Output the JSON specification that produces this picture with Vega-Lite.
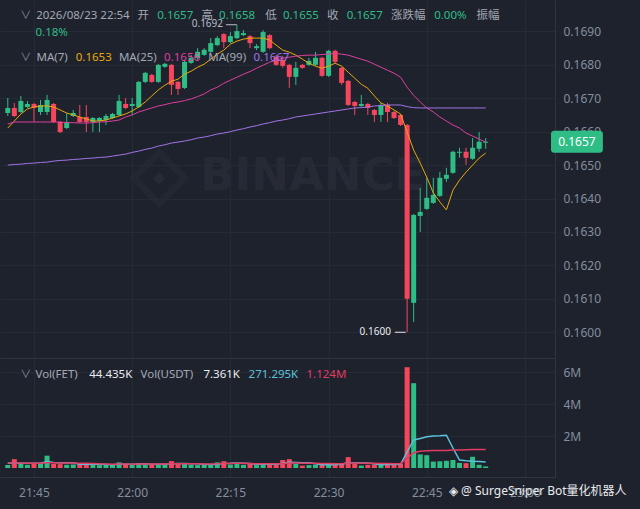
{
"$schema":"https://vega.github.io/schema/vega-lite/v6.json",
"background":"#1e222d",
"padding":0,
"spacing":0,
"config":{"view":{"stroke":null},"text":{"font":"Noto Sans, Noto Sans CJK SC"},
 "axis":{"labelOverlap":false,"labelColor":"#848e9c","labelFontSize":12,"labelFont":"Noto Sans","ticks":false,"tickSize":0,"domainColor":"#2f343f","gridColor":"#262a35"},
 "axisY":{"minExtent":85,"maxExtent":85,"labelPadding":8},
 "axisX":{"labelPadding":10}},
"datasets":{"k":[
{"t":41,"o":0.16656,"h":0.16701,"l":0.16647,"c":0.16671,"v":190000,"m7":0.16611,"m25":0.16623,"m99":0.16500,"v5":300000,"v10":320000},
{"t":42,"o":0.16671,"h":0.16686,"l":0.16644,"c":0.16647,"v":550000,"m7":0.16632,"m25":0.16629,"m99":0.16502,"v5":320000,"v10":320000},
{"t":43,"o":0.16659,"h":0.16707,"l":0.16656,"c":0.16692,"v":250000,"m7":0.16653,"m25":0.16629,"m99":0.16503,"v5":300000,"v10":310000},
{"t":44,"o":0.16674,"h":0.16692,"l":0.16671,"c":0.16683,"v":200000,"m7":0.16668,"m25":0.16629,"m99":0.16505,"v5":300000,"v10":300000},
{"t":45,"o":0.16683,"h":0.16686,"l":0.16629,"c":0.16671,"v":260000,"m7":0.16674,"m25":0.16629,"m99":0.16506,"v5":300000,"v10":300000},
{"t":46,"o":0.16659,"h":0.16695,"l":0.16650,"c":0.16680,"v":250000,"m7":0.16677,"m25":0.16629,"m99":0.16508,"v5":300000,"v10":300000},
{"t":47,"o":0.16659,"h":0.16710,"l":0.16650,"c":0.16695,"v":770000,"m7":0.16677,"m25":0.16629,"m99":0.16509,"v5":400000,"v10":330000},
{"t":48,"o":0.16683,"h":0.16686,"l":0.16626,"c":0.16629,"v":250000,"m7":0.16674,"m25":0.16629,"m99":0.16512,"v5":350000,"v10":330000},
{"t":49,"o":0.16629,"h":0.16632,"l":0.16596,"c":0.16599,"v":240000,"m7":0.16665,"m25":0.16629,"m99":0.16514,"v5":330000,"v10":320000},
{"t":50,"o":0.16611,"h":0.16656,"l":0.16608,"c":0.16629,"v":200000,"m7":0.16656,"m25":0.16627,"m99":0.16515,"v5":330000,"v10":320000},
{"t":51,"o":0.16647,"h":0.16665,"l":0.16644,"c":0.16656,"v":220000,"m7":0.16650,"m25":0.16627,"m99":0.16517,"v5":330000,"v10":310000},
{"t":52,"o":0.16644,"h":0.16680,"l":0.16626,"c":0.16629,"v":280000,"m7":0.16644,"m25":0.16626,"m99":0.16518,"v5":240000,"v10":300000},
{"t":53,"o":0.16644,"h":0.16680,"l":0.16599,"c":0.16629,"v":250000,"m7":0.16638,"m25":0.16626,"m99":0.16520,"v5":240000,"v10":290000},
{"t":54,"o":0.16629,"h":0.16644,"l":0.16599,"c":0.16641,"v":200000,"m7":0.16632,"m25":0.16627,"m99":0.16521,"v5":230000,"v10":280000},
{"t":55,"o":0.16632,"h":0.16644,"l":0.16599,"c":0.16641,"v":180000,"m7":0.16632,"m25":0.16629,"m99":0.16523,"v5":230000,"v10":260000},
{"t":56,"o":0.16635,"h":0.16653,"l":0.16620,"c":0.16647,"v":220000,"m7":0.16635,"m25":0.16630,"m99":0.16524,"v5":220000,"v10":250000},
{"t":57,"o":0.16641,"h":0.16656,"l":0.16638,"c":0.16653,"v":200000,"m7":0.16641,"m25":0.16632,"m99":0.16527,"v5":210000,"v10":240000},
{"t":58,"o":0.16650,"h":0.16710,"l":0.16647,"c":0.16692,"v":350000,"m7":0.16647,"m25":0.16635,"m99":0.16530,"v5":230000,"v10":250000},
{"t":59,"o":0.16683,"h":0.16701,"l":0.16668,"c":0.16671,"v":220000,"m7":0.16653,"m25":0.16644,"m99":0.16533,"v5":240000,"v10":250000},
{"t":60,"o":0.16677,"h":0.16701,"l":0.16650,"c":0.16683,"v":200000,"m7":0.16662,"m25":0.16650,"m99":0.16538,"v5":240000,"v10":240000},
{"t":61,"o":0.16674,"h":0.16752,"l":0.16671,"c":0.16749,"v":300000,"m7":0.16674,"m25":0.16659,"m99":0.16542,"v5":250000,"v10":250000},
{"t":62,"o":0.16749,"h":0.16779,"l":0.16746,"c":0.16776,"v":220000,"m7":0.16689,"m25":0.16665,"m99":0.16547,"v5":260000,"v10":250000},
{"t":63,"o":0.16770,"h":0.16773,"l":0.16746,"c":0.16749,"v":250000,"m7":0.16707,"m25":0.16671,"m99":0.16551,"v5":240000,"v10":250000},
{"t":64,"o":0.16749,"h":0.16803,"l":0.16746,"c":0.16800,"v":220000,"m7":0.16725,"m25":0.16677,"m99":0.16557,"v5":240000,"v10":250000},
{"t":65,"o":0.16794,"h":0.16806,"l":0.16791,"c":0.16803,"v":200000,"m7":0.16739,"m25":0.16681,"m99":0.16561,"v5":240000,"v10":250000},
{"t":66,"o":0.16800,"h":0.16803,"l":0.16710,"c":0.16740,"v":430000,"m7":0.16751,"m25":0.16686,"m99":0.16566,"v5":260000,"v10":260000},
{"t":67,"o":0.16749,"h":0.16752,"l":0.16710,"c":0.16728,"v":280000,"m7":0.16757,"m25":0.16689,"m99":0.16569,"v5":280000,"v10":270000},
{"t":68,"o":0.16731,"h":0.16815,"l":0.16728,"c":0.16809,"v":250000,"m7":0.16772,"m25":0.16693,"m99":0.16572,"v5":280000,"v10":270000},
{"t":69,"o":0.16806,"h":0.16830,"l":0.16803,"c":0.16821,"v":200000,"m7":0.16781,"m25":0.16698,"m99":0.16576,"v5":270000,"v10":260000},
{"t":70,"o":0.16821,"h":0.16850,"l":0.16815,"c":0.16839,"v":180000,"m7":0.16793,"m25":0.16705,"m99":0.16581,"v5":270000,"v10":260000},
{"t":71,"o":0.16830,"h":0.16850,"l":0.16827,"c":0.16845,"v":200000,"m7":0.16802,"m25":0.16713,"m99":0.16584,"v5":220000,"v10":250000},
{"t":72,"o":0.16839,"h":0.16880,"l":0.16836,"c":0.16865,"v":250000,"m7":0.16817,"m25":0.16725,"m99":0.16588,"v5":220000,"v10":250000},
{"t":73,"o":0.16859,"h":0.16886,"l":0.16856,"c":0.16880,"v":350000,"m7":0.16832,"m25":0.16733,"m99":0.16593,"v5":240000,"v10":260000},
{"t":74,"o":0.16892,"h":0.16895,"l":0.16850,"c":0.16868,"v":420000,"m7":0.16844,"m25":0.16745,"m99":0.16596,"v5":280000,"v10":280000},
{"t":75,"o":0.16868,"h":0.16898,"l":0.16865,"c":0.16886,"v":220000,"m7":0.16862,"m25":0.16754,"m99":0.16600,"v5":290000,"v10":280000},
{"t":76,"o":0.16880,"h":0.16920,"l":0.16877,"c":0.16901,"v":300000,"m7":0.16871,"m25":0.16763,"m99":0.16605,"v5":310000,"v10":290000},
{"t":77,"o":0.16889,"h":0.16904,"l":0.16886,"c":0.16895,"v":200000,"m7":0.16877,"m25":0.16772,"m99":0.16609,"v5":300000,"v10":290000},
{"t":78,"o":0.16886,"h":0.16889,"l":0.16850,"c":0.16865,"v":250000,"m7":0.16880,"m25":0.16780,"m99":0.16614,"v5":280000,"v10":280000},
{"t":79,"o":0.16850,"h":0.16862,"l":0.16844,"c":0.16856,"v":180000,"m7":0.16880,"m25":0.16790,"m99":0.16618,"v5":230000,"v10":260000},
{"t":80,"o":0.16839,"h":0.16904,"l":0.16836,"c":0.16898,"v":300000,"m7":0.16880,"m25":0.16799,"m99":0.16623,"v5":250000,"v10":260000},
{"t":81,"o":0.16889,"h":0.16892,"l":0.16847,"c":0.16850,"v":250000,"m7":0.16874,"m25":0.16808,"m99":0.16627,"v5":240000,"v10":260000},
{"t":82,"o":0.16824,"h":0.16830,"l":0.16797,"c":0.16800,"v":220000,"m7":0.16859,"m25":0.16814,"m99":0.16632,"v5":240000,"v10":260000},
{"t":83,"o":0.16815,"h":0.16827,"l":0.16791,"c":0.16797,"v":500000,"m7":0.16844,"m25":0.16820,"m99":0.16635,"v5":290000,"v10":280000},
{"t":84,"o":0.16800,"h":0.16803,"l":0.16731,"c":0.16764,"v":550000,"m7":0.16838,"m25":0.16823,"m99":0.16639,"v5":360000,"v10":310000},
{"t":85,"o":0.16764,"h":0.16809,"l":0.16740,"c":0.16791,"v":250000,"m7":0.16829,"m25":0.16826,"m99":0.16644,"v5":350000,"v10":310000},
{"t":86,"o":0.16800,"h":0.16803,"l":0.16788,"c":0.16791,"v":150000,"m7":0.16817,"m25":0.16828,"m99":0.16647,"v5":330000,"v10":300000},
{"t":87,"o":0.16800,"h":0.16821,"l":0.16797,"c":0.16812,"v":180000,"m7":0.16805,"m25":0.16829,"m99":0.16650,"v5":330000,"v10":300000},
{"t":88,"o":0.16800,"h":0.16839,"l":0.16797,"c":0.16821,"v":200000,"m7":0.16796,"m25":0.16829,"m99":0.16653,"v5":270000,"v10":290000},
{"t":89,"o":0.16821,"h":0.16824,"l":0.16764,"c":0.16767,"v":220000,"m7":0.16790,"m25":0.16831,"m99":0.16656,"v5":200000,"v10":280000},
{"t":90,"o":0.16767,"h":0.16845,"l":0.16764,"c":0.16842,"v":250000,"m7":0.16796,"m25":0.16832,"m99":0.16659,"v5":220000,"v10":280000},
{"t":91,"o":0.16842,"h":0.16845,"l":0.16806,"c":0.16809,"v":200000,"m7":0.16805,"m25":0.16834,"m99":0.16662,"v5":210000,"v10":270000},
{"t":92,"o":0.16791,"h":0.16794,"l":0.16740,"c":0.16746,"v":280000,"m7":0.16796,"m25":0.16832,"m99":0.16665,"v5":230000,"v10":270000},
{"t":93,"o":0.16752,"h":0.16755,"l":0.16677,"c":0.16680,"v":680000,"m7":0.16778,"m25":0.16829,"m99":0.16668,"v5":330000,"v10":310000},
{"t":94,"o":0.16689,"h":0.16692,"l":0.16650,"c":0.16677,"v":250000,"m7":0.16760,"m25":0.16823,"m99":0.16671,"v5":330000,"v10":310000},
{"t":95,"o":0.16677,"h":0.16710,"l":0.16674,"c":0.16683,"v":150000,"m7":0.16742,"m25":0.16817,"m99":0.16672,"v5":310000,"v10":300000},
{"t":96,"o":0.16683,"h":0.16686,"l":0.16650,"c":0.16671,"v":200000,"m7":0.16730,"m25":0.16811,"m99":0.16674,"v5":310000,"v10":290000},
{"t":97,"o":0.16665,"h":0.16668,"l":0.16629,"c":0.16650,"v":220000,"m7":0.16707,"m25":0.16802,"m99":0.16677,"v5":260000,"v10":290000},
{"t":98,"o":0.16650,"h":0.16686,"l":0.16629,"c":0.16680,"v":220000,"m7":0.16686,"m25":0.16793,"m99":0.16678,"v5":210000,"v10":280000},
{"t":99,"o":0.16680,"h":0.16686,"l":0.16629,"c":0.16659,"v":250000,"m7":0.16677,"m25":0.16784,"m99":0.16680,"v5":220000,"v10":280000},
{"t":100,"o":0.16659,"h":0.16662,"l":0.16638,"c":0.16641,"v":220000,"m7":0.16665,"m25":0.16775,"m99":0.16680,"v5":220000,"v10":270000},
{"t":101,"o":0.16650,"h":0.16653,"l":0.16617,"c":0.16620,"v":280000,"m7":0.16653,"m25":0.16763,"m99":0.16680,"v5":240000,"v10":270000},
{"t":102,"o":0.16620,"h":0.16623,"l":0.16000,"c":0.16100,"v":6300000,"m7":0.16599,"m25":0.16733,"m99":0.16675,"v5":1000000,"v10":600000},
{"t":103,"o":0.16088,"h":0.16354,"l":0.16031,"c":0.16351,"v":5300000,"m7":0.16545,"m25":0.16709,"m99":0.16672,"v5":1750000,"v10":950000},
{"t":104,"o":0.16348,"h":0.16432,"l":0.16300,"c":0.16360,"v":850000,"m7":0.16506,"m25":0.16689,"m99":0.16671,"v5":1850000,"v10":1050000},
{"t":105,"o":0.16369,"h":0.16462,"l":0.16366,"c":0.16402,"v":800000,"m7":0.16464,"m25":0.16671,"m99":0.16671,"v5":1950000,"v10":1080000},
{"t":106,"o":0.16387,"h":0.16462,"l":0.16384,"c":0.16411,"v":400000,"m7":0.16417,"m25":0.16659,"m99":0.16671,"v5":2000000,"v10":1100000},
{"t":107,"o":0.16408,"h":0.16480,"l":0.16405,"c":0.16462,"v":420000,"m7":0.16390,"m25":0.16644,"m99":0.16671,"v5":2020000,"v10":1100000},
{"t":108,"o":0.16459,"h":0.16492,"l":0.16450,"c":0.16471,"v":450000,"m7":0.16366,"m25":0.16632,"m99":0.16671,"v5":2050000,"v10":1100000},
{"t":109,"o":0.16477,"h":0.16543,"l":0.16474,"c":0.16540,"v":500000,"m7":0.16425,"m25":0.16620,"m99":0.16671,"v5":1250000,"v10":1120000},
{"t":110,"o":0.16537,"h":0.16552,"l":0.16522,"c":0.16540,"v":320000,"m7":0.16455,"m25":0.16611,"m99":0.16671,"v5":500000,"v10":1130000},
{"t":111,"o":0.16540,"h":0.16552,"l":0.16501,"c":0.16522,"v":300000,"m7":0.16479,"m25":0.16596,"m99":0.16671,"v5":450000,"v10":1140000},
{"t":112,"o":0.16519,"h":0.16581,"l":0.16516,"c":0.16552,"v":700000,"m7":0.16500,"m25":0.16587,"m99":0.16671,"v5":420000,"v10":1150000},
{"t":113,"o":0.16549,"h":0.16599,"l":0.16540,"c":0.16570,"v":200000,"m7":0.16521,"m25":0.16578,"m99":0.16671,"v5":400000,"v10":1150000},
{"t":114,"o":0.16567,"h":0.16581,"l":0.16549,"c":0.16570,"v":100000,"m7":0.16536,"m25":0.16569,"m99":0.16671,"v5":380000,"v10":1150000}
]},
"vconcat":[
{"width":555,"height":358,
 "layer":[
  {"data":{"values":[{}]},
   "layer":[
    {"mark":{"type":"point","shape":"diamond","size":2600,"filled":false,"stroke":"#262a35","strokeWidth":7},
     "encoding":{"x":{"datum":64.1,"type":"quantitative","scale":{"domain":[40.575,123.825],"nice":false},"axis":{"values":[45,60,75,90,105,120],"labels":false,"title":null,"grid":true,"domain":true,"minExtent":0,"maxExtent":0}},"y":{"datum":0.16461,"type":"quantitative","scale":{"domain":[0.15923,0.16994],"nice":false},"axis":{"orient":"right","values":[0.160,0.161,0.162,0.163,0.164,0.165,0.166,0.167,0.168,0.169],"format":".4f","title":null,"grid":true,"domain":true}}}},
    {"mark":{"type":"point","shape":"diamond","size":160,"filled":true,"fill":"#262a35","opacity":1},
     "encoding":{"x":{"datum":64.1,"type":"quantitative","scale":{"domain":[40.575,123.825],"nice":false},"axis":{"values":[45,60,75,90,105,120],"labels":false,"title":null,"grid":true,"domain":true,"minExtent":0,"maxExtent":0}},"y":{"datum":0.16461,"type":"quantitative","scale":{"domain":[0.15923,0.16994],"nice":false},"axis":{"orient":"right","values":[0.160,0.161,0.162,0.163,0.164,0.165,0.166,0.167,0.168,0.169],"format":".4f","title":null,"grid":true,"domain":true}}}},
    {"mark":{"type":"text","text":"BINANCE","align":"left","baseline":"middle","fontSize":45,"fontWeight":"bold","font":"DejaVu Sans","color":"#262a35"},
     "encoding":{"x":{"datum":70.4,"type":"quantitative","scale":{"domain":[40.575,123.825],"nice":false},"axis":{"values":[45,60,75,90,105,120],"labels":false,"title":null,"grid":true,"domain":true,"minExtent":0,"maxExtent":0}},"y":{"datum":0.16467,"type":"quantitative","scale":{"domain":[0.15923,0.16994],"nice":false},"axis":{"orient":"right","values":[0.160,0.161,0.162,0.163,0.164,0.165,0.166,0.167,0.168,0.169],"format":".4f","title":null,"grid":true,"domain":true}}}}
   ]},
  {"data":{"name":"k"},
   "encoding":{"x":{"field":"t","type":"quantitative","scale":{"domain":[40.575,123.825],"nice":false},"axis":{"values":[45,60,75,90,105,120],"labels":false,"title":null,"grid":true,"domain":true,"minExtent":0,"maxExtent":0}}},
   "layer":[
    {"mark":{"type":"rule","strokeWidth":1},
     "encoding":{"y":{"field":"l","type":"quantitative","scale":{"domain":[0.15923,0.16994],"nice":false},"axis":{"orient":"right","values":[0.160,0.161,0.162,0.163,0.164,0.165,0.166,0.167,0.168,0.169],"format":".4f","title":null,"grid":true,"domain":true}},
      "y2":{"field":"h"},
      "color":{"condition":{"test":"datum.c >= datum.o","value":"#2ebd85"},"value":"#f6465d"}}},
    {"mark":{"type":"bar","size":5},
     "encoding":{"y":{"field":"o","type":"quantitative","scale":{"domain":[0.15923,0.16994],"nice":false},"axis":{"orient":"right","values":[0.160,0.161,0.162,0.163,0.164,0.165,0.166,0.167,0.168,0.169],"format":".4f","title":null,"grid":true,"domain":true}},"y2":{"field":"c"},
      "color":{"condition":{"test":"datum.c >= datum.o","value":"#2ebd85"},"value":"#f6465d"}}},
    {"mark":{"type":"line","strokeWidth":1,"color":"#e9a80c"},"encoding":{"y":{"field":"m7","type":"quantitative","scale":{"domain":[0.15923,0.16994],"nice":false},"axis":{"orient":"right","values":[0.160,0.161,0.162,0.163,0.164,0.165,0.166,0.167,0.168,0.169],"format":".4f","title":null,"grid":true,"domain":true}}}},
    {"mark":{"type":"line","strokeWidth":1,"color":"#dd3f9e"},"encoding":{"y":{"field":"m25","type":"quantitative","scale":{"domain":[0.15923,0.16994],"nice":false},"axis":{"orient":"right","values":[0.160,0.161,0.162,0.163,0.164,0.165,0.166,0.167,0.168,0.169],"format":".4f","title":null,"grid":true,"domain":true}}}},
    {"mark":{"type":"line","strokeWidth":1,"color":"#a074e8"},"encoding":{"y":{"field":"m99","type":"quantitative","scale":{"domain":[0.15923,0.16994],"nice":false},"axis":{"orient":"right","values":[0.160,0.161,0.162,0.163,0.164,0.165,0.166,0.167,0.168,0.169],"format":".4f","title":null,"grid":true,"domain":true}}}}
   ]},
  {"data":{"values":[{"r1":0.16946,"r2":0.16895,"r3":0.16820}]},
   "layer":[
    {"mark":{"type":"text","text":"∨","align":"center","baseline":"middle","fontSize":11,"color":"#848e9c"},"encoding":{"x":{"datum":43.73,"type":"quantitative","scale":{"domain":[40.575,123.825],"nice":false},"axis":{"values":[45,60,75,90,105,120],"labels":false,"title":null,"grid":true,"domain":true,"minExtent":0,"maxExtent":0}},"y":{"datum":0.16946,"type":"quantitative","scale":{"domain":[0.15923,0.16994],"nice":false},"axis":{"orient":"right","values":[0.160,0.161,0.162,0.163,0.164,0.165,0.166,0.167,0.168,0.169],"format":".4f","title":null,"grid":true,"domain":true}}}},
    {"mark":{"type":"text","text":"2026/08/23 22:54","align":"left","baseline":"middle","fontSize":11.5,"color":"#a3a9b4"},"encoding":{"x":{"datum":45.33,"type":"quantitative","scale":{"domain":[40.575,123.825],"nice":false},"axis":{"values":[45,60,75,90,105,120],"labels":false,"title":null,"grid":true,"domain":true,"minExtent":0,"maxExtent":0}},"y":{"datum":0.16946,"type":"quantitative","scale":{"domain":[0.15923,0.16994],"nice":false},"axis":{"orient":"right","values":[0.160,0.161,0.162,0.163,0.164,0.165,0.166,0.167,0.168,0.169],"format":".4f","title":null,"grid":true,"domain":true}}}},
    {"mark":{"type":"text","text":"开","align":"left","baseline":"middle","fontSize":11.5,"color":"#a3a9b4"},"encoding":{"x":{"datum":60.83,"type":"quantitative","scale":{"domain":[40.575,123.825],"nice":false},"axis":{"values":[45,60,75,90,105,120],"labels":false,"title":null,"grid":true,"domain":true,"minExtent":0,"maxExtent":0}},"y":{"datum":0.16946,"type":"quantitative","scale":{"domain":[0.15923,0.16994],"nice":false},"axis":{"orient":"right","values":[0.160,0.161,0.162,0.163,0.164,0.165,0.166,0.167,0.168,0.169],"format":".4f","title":null,"grid":true,"domain":true}}}},
    {"mark":{"type":"text","text":"0.1657","align":"left","baseline":"middle","fontSize":11.5,"color":"#2ebd85"},"encoding":{"x":{"datum":63.83,"type":"quantitative","scale":{"domain":[40.575,123.825],"nice":false},"axis":{"values":[45,60,75,90,105,120],"labels":false,"title":null,"grid":true,"domain":true,"minExtent":0,"maxExtent":0}},"y":{"datum":0.16946,"type":"quantitative","scale":{"domain":[0.15923,0.16994],"nice":false},"axis":{"orient":"right","values":[0.160,0.161,0.162,0.163,0.164,0.165,0.166,0.167,0.168,0.169],"format":".4f","title":null,"grid":true,"domain":true}}}},
    {"mark":{"type":"text","text":"高","align":"left","baseline":"middle","fontSize":11.5,"color":"#a3a9b4"},"encoding":{"x":{"datum":70.58,"type":"quantitative","scale":{"domain":[40.575,123.825],"nice":false},"axis":{"values":[45,60,75,90,105,120],"labels":false,"title":null,"grid":true,"domain":true,"minExtent":0,"maxExtent":0}},"y":{"datum":0.16946,"type":"quantitative","scale":{"domain":[0.15923,0.16994],"nice":false},"axis":{"orient":"right","values":[0.160,0.161,0.162,0.163,0.164,0.165,0.166,0.167,0.168,0.169],"format":".4f","title":null,"grid":true,"domain":true}}}},
    {"mark":{"type":"text","text":"0.1658","align":"left","baseline":"middle","fontSize":11.5,"color":"#2ebd85"},"encoding":{"x":{"datum":73.28,"type":"quantitative","scale":{"domain":[40.575,123.825],"nice":false},"axis":{"values":[45,60,75,90,105,120],"labels":false,"title":null,"grid":true,"domain":true,"minExtent":0,"maxExtent":0}},"y":{"datum":0.16946,"type":"quantitative","scale":{"domain":[0.15923,0.16994],"nice":false},"axis":{"orient":"right","values":[0.160,0.161,0.162,0.163,0.164,0.165,0.166,0.167,0.168,0.169],"format":".4f","title":null,"grid":true,"domain":true}}}},
    {"mark":{"type":"text","text":"低","align":"left","baseline":"middle","fontSize":11.5,"color":"#a3a9b4"},"encoding":{"x":{"datum":80.33,"type":"quantitative","scale":{"domain":[40.575,123.825],"nice":false},"axis":{"values":[45,60,75,90,105,120],"labels":false,"title":null,"grid":true,"domain":true,"minExtent":0,"maxExtent":0}},"y":{"datum":0.16946,"type":"quantitative","scale":{"domain":[0.15923,0.16994],"nice":false},"axis":{"orient":"right","values":[0.160,0.161,0.162,0.163,0.164,0.165,0.166,0.167,0.168,0.169],"format":".4f","title":null,"grid":true,"domain":true}}}},
    {"mark":{"type":"text","text":"0.1655","align":"left","baseline":"middle","fontSize":11.5,"color":"#2ebd85"},"encoding":{"x":{"datum":83.03,"type":"quantitative","scale":{"domain":[40.575,123.825],"nice":false},"axis":{"values":[45,60,75,90,105,120],"labels":false,"title":null,"grid":true,"domain":true,"minExtent":0,"maxExtent":0}},"y":{"datum":0.16946,"type":"quantitative","scale":{"domain":[0.15923,0.16994],"nice":false},"axis":{"orient":"right","values":[0.160,0.161,0.162,0.163,0.164,0.165,0.166,0.167,0.168,0.169],"format":".4f","title":null,"grid":true,"domain":true}}}},
    {"mark":{"type":"text","text":"收","align":"left","baseline":"middle","fontSize":11.5,"color":"#a3a9b4"},"encoding":{"x":{"datum":89.78,"type":"quantitative","scale":{"domain":[40.575,123.825],"nice":false},"axis":{"values":[45,60,75,90,105,120],"labels":false,"title":null,"grid":true,"domain":true,"minExtent":0,"maxExtent":0}},"y":{"datum":0.16946,"type":"quantitative","scale":{"domain":[0.15923,0.16994],"nice":false},"axis":{"orient":"right","values":[0.160,0.161,0.162,0.163,0.164,0.165,0.166,0.167,0.168,0.169],"format":".4f","title":null,"grid":true,"domain":true}}}},
    {"mark":{"type":"text","text":"0.1657","align":"left","baseline":"middle","fontSize":11.5,"color":"#2ebd85"},"encoding":{"x":{"datum":92.78,"type":"quantitative","scale":{"domain":[40.575,123.825],"nice":false},"axis":{"values":[45,60,75,90,105,120],"labels":false,"title":null,"grid":true,"domain":true,"minExtent":0,"maxExtent":0}},"y":{"datum":0.16946,"type":"quantitative","scale":{"domain":[0.15923,0.16994],"nice":false},"axis":{"orient":"right","values":[0.160,0.161,0.162,0.163,0.164,0.165,0.166,0.167,0.168,0.169],"format":".4f","title":null,"grid":true,"domain":true}}}},
    {"mark":{"type":"text","text":"涨跌幅","align":"left","baseline":"middle","fontSize":11.5,"color":"#a3a9b4"},"encoding":{"x":{"datum":99.53,"type":"quantitative","scale":{"domain":[40.575,123.825],"nice":false},"axis":{"values":[45,60,75,90,105,120],"labels":false,"title":null,"grid":true,"domain":true,"minExtent":0,"maxExtent":0}},"y":{"datum":0.16946,"type":"quantitative","scale":{"domain":[0.15923,0.16994],"nice":false},"axis":{"orient":"right","values":[0.160,0.161,0.162,0.163,0.164,0.165,0.166,0.167,0.168,0.169],"format":".4f","title":null,"grid":true,"domain":true}}}},
    {"mark":{"type":"text","text":"0.00%","align":"left","baseline":"middle","fontSize":11.5,"color":"#2ebd85"},"encoding":{"x":{"datum":106.13,"type":"quantitative","scale":{"domain":[40.575,123.825],"nice":false},"axis":{"values":[45,60,75,90,105,120],"labels":false,"title":null,"grid":true,"domain":true,"minExtent":0,"maxExtent":0}},"y":{"datum":0.16946,"type":"quantitative","scale":{"domain":[0.15923,0.16994],"nice":false},"axis":{"orient":"right","values":[0.160,0.161,0.162,0.163,0.164,0.165,0.166,0.167,0.168,0.169],"format":".4f","title":null,"grid":true,"domain":true}}}},
    {"mark":{"type":"text","text":"振幅","align":"left","baseline":"middle","fontSize":11.5,"color":"#a3a9b4"},"encoding":{"x":{"datum":112.58,"type":"quantitative","scale":{"domain":[40.575,123.825],"nice":false},"axis":{"values":[45,60,75,90,105,120],"labels":false,"title":null,"grid":true,"domain":true,"minExtent":0,"maxExtent":0}},"y":{"datum":0.16946,"type":"quantitative","scale":{"domain":[0.15923,0.16994],"nice":false},"axis":{"orient":"right","values":[0.160,0.161,0.162,0.163,0.164,0.165,0.166,0.167,0.168,0.169],"format":".4f","title":null,"grid":true,"domain":true}}}},
    {"mark":{"type":"text","text":"0.18%","align":"left","baseline":"middle","fontSize":11.5,"color":"#2ebd85"},"encoding":{"x":{"datum":45.23,"type":"quantitative","scale":{"domain":[40.575,123.825],"nice":false},"axis":{"values":[45,60,75,90,105,120],"labels":false,"title":null,"grid":true,"domain":true,"minExtent":0,"maxExtent":0}},"y":{"datum":0.16895,"type":"quantitative","scale":{"domain":[0.15923,0.16994],"nice":false},"axis":{"orient":"right","values":[0.160,0.161,0.162,0.163,0.164,0.165,0.166,0.167,0.168,0.169],"format":".4f","title":null,"grid":true,"domain":true}}}},
    {"mark":{"type":"text","text":"∨","align":"center","baseline":"middle","fontSize":11,"color":"#848e9c"},"encoding":{"x":{"datum":43.73,"type":"quantitative","scale":{"domain":[40.575,123.825],"nice":false},"axis":{"values":[45,60,75,90,105,120],"labels":false,"title":null,"grid":true,"domain":true,"minExtent":0,"maxExtent":0}},"y":{"datum":0.16820,"type":"quantitative","scale":{"domain":[0.15923,0.16994],"nice":false},"axis":{"orient":"right","values":[0.160,0.161,0.162,0.163,0.164,0.165,0.166,0.167,0.168,0.169],"format":".4f","title":null,"grid":true,"domain":true}}}},
    {"mark":{"type":"text","text":"MA(7)","align":"left","baseline":"middle","fontSize":11.5,"color":"#a3a9b4"},"encoding":{"x":{"datum":45.38,"type":"quantitative","scale":{"domain":[40.575,123.825],"nice":false},"axis":{"values":[45,60,75,90,105,120],"labels":false,"title":null,"grid":true,"domain":true,"minExtent":0,"maxExtent":0}},"y":{"datum":0.16820,"type":"quantitative","scale":{"domain":[0.15923,0.16994],"nice":false},"axis":{"orient":"right","values":[0.160,0.161,0.162,0.163,0.164,0.165,0.166,0.167,0.168,0.169],"format":".4f","title":null,"grid":true,"domain":true}}}},
    {"mark":{"type":"text","text":"0.1653","align":"left","baseline":"middle","fontSize":11.5,"color":"#e9a80c"},"encoding":{"x":{"datum":51.38,"type":"quantitative","scale":{"domain":[40.575,123.825],"nice":false},"axis":{"values":[45,60,75,90,105,120],"labels":false,"title":null,"grid":true,"domain":true,"minExtent":0,"maxExtent":0}},"y":{"datum":0.16820,"type":"quantitative","scale":{"domain":[0.15923,0.16994],"nice":false},"axis":{"orient":"right","values":[0.160,0.161,0.162,0.163,0.164,0.165,0.166,0.167,0.168,0.169],"format":".4f","title":null,"grid":true,"domain":true}}}},
    {"mark":{"type":"text","text":"MA(25)","align":"left","baseline":"middle","fontSize":11.5,"color":"#a3a9b4"},"encoding":{"x":{"datum":57.98,"type":"quantitative","scale":{"domain":[40.575,123.825],"nice":false},"axis":{"values":[45,60,75,90,105,120],"labels":false,"title":null,"grid":true,"domain":true,"minExtent":0,"maxExtent":0}},"y":{"datum":0.16820,"type":"quantitative","scale":{"domain":[0.15923,0.16994],"nice":false},"axis":{"orient":"right","values":[0.160,0.161,0.162,0.163,0.164,0.165,0.166,0.167,0.168,0.169],"format":".4f","title":null,"grid":true,"domain":true}}}},
    {"mark":{"type":"text","text":"0.1656","align":"left","baseline":"middle","fontSize":11.5,"color":"#dd3f9e"},"encoding":{"x":{"datum":64.88,"type":"quantitative","scale":{"domain":[40.575,123.825],"nice":false},"axis":{"values":[45,60,75,90,105,120],"labels":false,"title":null,"grid":true,"domain":true,"minExtent":0,"maxExtent":0}},"y":{"datum":0.16820,"type":"quantitative","scale":{"domain":[0.15923,0.16994],"nice":false},"axis":{"orient":"right","values":[0.160,0.161,0.162,0.163,0.164,0.165,0.166,0.167,0.168,0.169],"format":".4f","title":null,"grid":true,"domain":true}}}},
    {"mark":{"type":"text","text":"MA(99)","align":"left","baseline":"middle","fontSize":11.5,"color":"#a3a9b4"},"encoding":{"x":{"datum":71.63,"type":"quantitative","scale":{"domain":[40.575,123.825],"nice":false},"axis":{"values":[45,60,75,90,105,120],"labels":false,"title":null,"grid":true,"domain":true,"minExtent":0,"maxExtent":0}},"y":{"datum":0.16820,"type":"quantitative","scale":{"domain":[0.15923,0.16994],"nice":false},"axis":{"orient":"right","values":[0.160,0.161,0.162,0.163,0.164,0.165,0.166,0.167,0.168,0.169],"format":".4f","title":null,"grid":true,"domain":true}}}},
    {"mark":{"type":"text","text":"0.1667","align":"left","baseline":"middle","fontSize":11.5,"color":"#a074e8"},"encoding":{"x":{"datum":78.53,"type":"quantitative","scale":{"domain":[40.575,123.825],"nice":false},"axis":{"values":[45,60,75,90,105,120],"labels":false,"title":null,"grid":true,"domain":true,"minExtent":0,"maxExtent":0}},"y":{"datum":0.16820,"type":"quantitative","scale":{"domain":[0.15923,0.16994],"nice":false},"axis":{"orient":"right","values":[0.160,0.161,0.162,0.163,0.164,0.165,0.166,0.167,0.168,0.169],"format":".4f","title":null,"grid":true,"domain":true}}}},
    {"mark":{"type":"text","text":"0.1692","align":"right","baseline":"middle","fontSize":10,"color":"#b7bdc6"},"encoding":{"x":{"datum":73.88,"type":"quantitative","scale":{"domain":[40.575,123.825],"nice":false},"axis":{"values":[45,60,75,90,105,120],"labels":false,"title":null,"grid":true,"domain":true,"minExtent":0,"maxExtent":0}},"y":{"datum":0.16923,"type":"quantitative","scale":{"domain":[0.15923,0.16994],"nice":false},"axis":{"orient":"right","values":[0.160,0.161,0.162,0.163,0.164,0.165,0.166,0.167,0.168,0.169],"format":".4f","title":null,"grid":true,"domain":true}}}},
    {"mark":{"type":"rule","strokeWidth":1,"color":"#b7bdc6"},"encoding":{"x":{"datum":74.33,"type":"quantitative","scale":{"domain":[40.575,123.825],"nice":false},"axis":{"values":[45,60,75,90,105,120],"labels":false,"title":null,"grid":true,"domain":true,"minExtent":0,"maxExtent":0}},"x2":{"datum":75.98},"y":{"datum":0.1692,"type":"quantitative","scale":{"domain":[0.15923,0.16994],"nice":false},"axis":{"orient":"right","values":[0.160,0.161,0.162,0.163,0.164,0.165,0.166,0.167,0.168,0.169],"format":".4f","title":null,"grid":true,"domain":true}}}},
    {"mark":{"type":"text","text":"0.1600","align":"right","baseline":"middle","fontSize":10,"color":"#eaecef"},"encoding":{"x":{"datum":99.52,"type":"quantitative","scale":{"domain":[40.575,123.825],"nice":false},"axis":{"values":[45,60,75,90,105,120],"labels":false,"title":null,"grid":true,"domain":true,"minExtent":0,"maxExtent":0}},"y":{"datum":0.16,"type":"quantitative","scale":{"domain":[0.15923,0.16994],"nice":false},"axis":{"orient":"right","values":[0.160,0.161,0.162,0.163,0.164,0.165,0.166,0.167,0.168,0.169],"format":".4f","title":null,"grid":true,"domain":true}}}},
    {"mark":{"type":"rule","strokeWidth":1,"color":"#eaecef"},"encoding":{"x":{"datum":100.12,"type":"quantitative","scale":{"domain":[40.575,123.825],"nice":false},"axis":{"values":[45,60,75,90,105,120],"labels":false,"title":null,"grid":true,"domain":true,"minExtent":0,"maxExtent":0}},"x2":{"datum":101.78},"y":{"datum":0.16,"type":"quantitative","scale":{"domain":[0.15923,0.16994],"nice":false},"axis":{"orient":"right","values":[0.160,0.161,0.162,0.163,0.164,0.165,0.166,0.167,0.168,0.169],"format":".4f","title":null,"grid":true,"domain":true}}}},
    {"mark":{"type":"rect","fill":"#2ebd85","cornerRadius":3},"encoding":{"x":{"datum":123.98,"type":"quantitative","scale":{"domain":[40.575,123.825],"nice":false},"axis":{"values":[45,60,75,90,105,120],"labels":false,"title":null,"grid":true,"domain":true,"minExtent":0,"maxExtent":0}},"x2":{"datum":131.9},"y":{"datum":0.16603,"type":"quantitative","scale":{"domain":[0.15923,0.16994],"nice":false},"axis":{"orient":"right","values":[0.160,0.161,0.162,0.163,0.164,0.165,0.166,0.167,0.168,0.169],"format":".4f","title":null,"grid":true,"domain":true}},"y2":{"datum":0.16537}}},
    {"mark":{"type":"text","text":"0.1657","align":"center","baseline":"middle","fontSize":12,"color":"#ffffff"},"encoding":{"x":{"datum":127.94,"type":"quantitative","scale":{"domain":[40.575,123.825],"nice":false},"axis":{"values":[45,60,75,90,105,120],"labels":false,"title":null,"grid":true,"domain":true,"minExtent":0,"maxExtent":0}},"y":{"datum":0.1657,"type":"quantitative","scale":{"domain":[0.15923,0.16994],"nice":false},"axis":{"orient":"right","values":[0.160,0.161,0.162,0.163,0.164,0.165,0.166,0.167,0.168,0.169],"format":".4f","title":null,"grid":true,"domain":true}}}}
   ]}
 ]},
{"width":555,"height":119,
 "layer":[
  {"data":{"name":"k"},
   "encoding":{"x":{"field":"t","type":"quantitative","scale":{"domain":[40.575,123.825],"nice":false},
     "axis":{"values":[45,60,75,90,105,120],"labelExpr":"(21 + floor(datum.value / 60)) + ':' + (datum.value % 60 < 10 ? '0' : '') + (datum.value % 60)","title":null,"grid":true,"domain":true,"minExtent":32,"maxExtent":32}}},
   "layer":[
    {"mark":{"type":"bar","size":5},
     "encoding":{"y":{"field":"v","type":"quantitative","stack":null,"scale":{"domain":[-562500,6875000],"nice":false},
        "axis":{"orient":"right","values":[2000000,4000000,6000000],"labelExpr":"datum.value / 1000000 + 'M'","title":null,"grid":true,"domain":true}},
      "y2":{"datum":0},
      "color":{"condition":{"test":"datum.c >= datum.o","value":"#2ebd85"},"value":"#f6465d"}}},
    {"mark":{"type":"line","strokeWidth":1.5,"color":"#5bc2dc"},"encoding":{"y":{"field":"v5","type":"quantitative","scale":{"domain":[-562500,6875000],"nice":false}}}},
    {"mark":{"type":"line","strokeWidth":1.5,"color":"#e23b62"},"encoding":{"y":{"field":"v10","type":"quantitative","scale":{"domain":[-562500,6875000],"nice":false}}}}
   ]},
  {"data":{"values":[{}]},
   "layer":[
    {"mark":{"type":"text","text":"∨","align":"center","baseline":"middle","fontSize":11,"color":"#848e9c"},"encoding":{"x":{"datum":43.73,"type":"quantitative","scale":{"domain":[40.575,123.825],"nice":false}},"y":{"datum":5812500,"type":"quantitative","scale":{"domain":[-562500,6875000],"nice":false}}}},
    {"mark":{"type":"text","text":"Vol(FET)","align":"left","baseline":"middle","fontSize":11.5,"color":"#a3a9b4"},"encoding":{"x":{"datum":45.23,"type":"quantitative","scale":{"domain":[40.575,123.825],"nice":false}},"y":{"datum":5812500,"type":"quantitative","scale":{"domain":[-562500,6875000],"nice":false}}}},
    {"mark":{"type":"text","text":"44.435K","align":"left","baseline":"middle","fontSize":11.5,"color":"#eaecef"},"encoding":{"x":{"datum":53.43,"type":"quantitative","scale":{"domain":[40.575,123.825],"nice":false}},"y":{"datum":5812500,"type":"quantitative","scale":{"domain":[-562500,6875000],"nice":false}}}},
    {"mark":{"type":"text","text":"Vol(USDT)","align":"left","baseline":"middle","fontSize":11.5,"color":"#a3a9b4"},"encoding":{"x":{"datum":61.28,"type":"quantitative","scale":{"domain":[40.575,123.825],"nice":false}},"y":{"datum":5812500,"type":"quantitative","scale":{"domain":[-562500,6875000],"nice":false}}}},
    {"mark":{"type":"text","text":"7.361K","align":"left","baseline":"middle","fontSize":11.5,"color":"#eaecef"},"encoding":{"x":{"datum":70.88,"type":"quantitative","scale":{"domain":[40.575,123.825],"nice":false}},"y":{"datum":5812500,"type":"quantitative","scale":{"domain":[-562500,6875000],"nice":false}}}},
    {"mark":{"type":"text","text":"271.295K","align":"left","baseline":"middle","fontSize":11.5,"color":"#5bc2dc"},"encoding":{"x":{"datum":77.78,"type":"quantitative","scale":{"domain":[40.575,123.825],"nice":false}},"y":{"datum":5812500,"type":"quantitative","scale":{"domain":[-562500,6875000],"nice":false}}}},
    {"mark":{"type":"text","text":"1.124M","align":"left","baseline":"middle","fontSize":11.5,"color":"#e23b62"},"encoding":{"x":{"datum":86.63,"type":"quantitative","scale":{"domain":[40.575,123.825],"nice":false}},"y":{"datum":5812500,"type":"quantitative","scale":{"domain":[-562500,6875000],"nice":false}}}},
    {"mark":{"type":"text","text":"◈ @ SurgeSniper Bot量化机器人","align":"left","baseline":"middle","fontSize":12,"color":"#eaecef"},"encoding":{"x":{"datum":108.38,"type":"quantitative","scale":{"domain":[40.575,123.825],"nice":false}},"y":{"datum":-1437500,"type":"quantitative","scale":{"domain":[-562500,6875000],"nice":false}}}}
   ]}
 ]}
]
}
